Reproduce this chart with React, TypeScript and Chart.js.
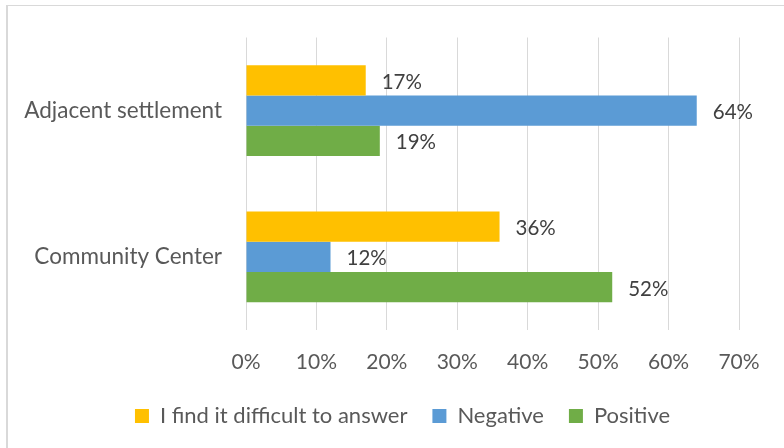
import React, { useEffect, useRef } from "react";
import { Chart, registerables } from "chart.js";

Chart.register(...registerables);

const categories = ["Adjacent settlement", "Community Center"];
const seriesNames = ["I find it difficult to answer", "Negative", "Positive"];
const difficultValues = [17, 36];
const negativeValues = [64, 12];
const positiveValues = [19, 52];
const xTicks = [0, 10, 20, 30, 40, 50, 60, 70];

const FONT = "Lato, 'Open Sans', sans-serif";

const labelPlugin = {
  id: "barLabels",
  afterDatasetsDraw(chart: any) {
    const ctx = chart.ctx;
    ctx.save();
    ctx.font = `20.5px ${FONT}`;
    ctx.fillStyle = "#404040";
    ctx.textAlign = "left";
    ctx.textBaseline = "middle";
    chart.data.datasets.forEach((ds: any, i: number) => {
      const meta = chart.getDatasetMeta(i);
      meta.data.forEach((el: any, j: number) => {
        ctx.fillText(ds.data[j] + "%", el.x + 16, el.y + 2);
      });
    });
    ctx.restore();
  },
};

// centre the legend under the whole frame rather than the padded area
const legendShift = {
  id: "legendShift",
  afterLayout(chart: any) {
    if (chart.legend) {
      chart.legend.left += 33;
      chart.legend.right += 33;
    }
  },
};

export default function App() {
  const ref = useRef<HTMLCanvasElement>(null);
  useEffect(() => {
    if (!ref.current) return;
    const chart = new Chart(ref.current, {
      type: "bar",
      data: {
        labels: categories,
        datasets: [
          { label: seriesNames[0], data: difficultValues, backgroundColor: "#FFC000" },
          { label: seriesNames[1], data: negativeValues, backgroundColor: "#5B9BD5" },
          { label: seriesNames[2], data: positiveValues, backgroundColor: "#70AD47" },
        ],
      },
      options: {
        indexAxis: "y",
        animation: false,
        responsive: false,
        maintainAspectRatio: false,
        datasets: { bar: { categoryPercentage: 0.62, barPercentage: 1 } },
        layout: { padding: { left: 0, right: 45, top: 29, bottom: 11 } },
        scales: {
          x: {
            min: 0,
            max: 70,
            afterBuildTicks: (s: any) => {
              s.ticks = xTicks.map((v) => ({ value: v }));
            },
            afterFit: (s: any) => {
              s.height = 50;
            },
            grid: { color: "#d9d9d9", drawTicks: false, lineWidth: 1 },
            border: { display: false },
            ticks: {
              padding: 20,
              color: "#595959",
              font: { family: FONT, size: 21 },
              callback: (v: any) => v + "%",
            },
          },
          y: {
            afterFit: (s: any) => {
              s.width = 246;
            },
            grid: { display: false, drawTicks: false },
            border: { display: false },
            ticks: {
              padding: 24,
              color: "#595959",
              font: { family: FONT, size: 22.5 },
            },
          },
        },
        plugins: {
          legend: {
            position: "bottom",
            labels: {
              boxWidth: 14,
              boxHeight: 14,
              padding: 25,
              color: "#595959",
              font: { family: FONT, size: 22 },
            },
          },
          tooltip: { enabled: false },
        },
      },
      plugins: [labelPlugin, legendShift],
    });
    return () => chart.destroy();
  }, []);
  return (
    <div style={{ position: "fixed", left: 0, top: 0, width: 784, height: 448, overflow: "hidden", background: "#fff" }}>
      <div
        style={{
          position: "absolute",
          left: 6,
          top: 5,
          width: 800,
          height: 460,
          borderTop: "1px solid #d9d9d9",
          borderLeft: "2px solid #d9d9d9",
        }}
      />
      <canvas ref={ref} width={784} height={448} style={{ position: "absolute", left: 0, top: 0 }} />
    </div>
  );
}
